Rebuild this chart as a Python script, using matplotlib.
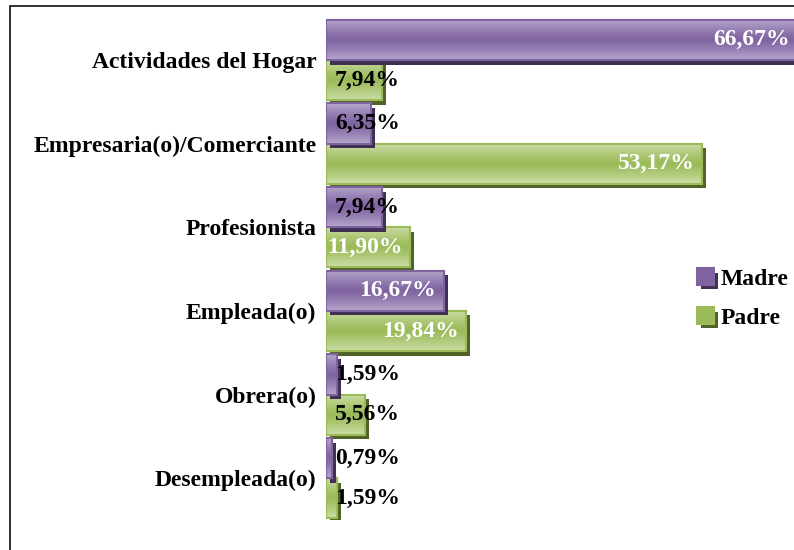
import numpy as np
import matplotlib
matplotlib.use('Agg')
import matplotlib.pyplot as plt
import matplotlib.patheffects as pe
from matplotlib.patches import Rectangle
from matplotlib.colors import to_rgb

# Data
categories = ['Actividades del Hogar', 'Empresaria(o)/Comerciante', 'Profesionista',
              'Empleada(o)', 'Obrera(o)', 'Desempleada(o)']
madre = [66.67, 6.35, 7.94, 16.67, 1.59, 0.79]
padre = [7.94, 53.17, 11.90, 19.84, 5.56, 1.59]

plt.rcParams['font.family'] = ['Liberation Serif', 'DejaVu Serif']
plt.rcParams['font.weight'] = 'bold'
FS = 17

fig = plt.figure(figsize=(7.94, 5.50), dpi=100)
ax = fig.add_axes([326 / 794, 0.0545, 1 - 326 / 794, 0.967 - 0.0545])

# frame around the chart (runs off the right and bottom edges)
fig.patches.append(Rectangle((10 / 794, -0.1), 1.2, 1 - 6 / 550 + 0.1, transform=fig.transFigure,
                             fill=False, edgecolor='#222222', lw=1.3))

series = [
    ('Padre', padre, 0.24, '#9BBB59', '#CCDDA8', '#4F6228', 2),
    ('Madre', madre, -0.24, '#8064A2', '#B6A8CC', '#403152', 3),
]

y = np.arange(len(categories))
h = 0.48
handles = {}
for name, vals, off, base, light, dark, z in series:
    shadow = [pe.SimplePatchShadow(offset=(3, -3.3), shadow_rgbFace=dark, alpha=1.0), pe.Normal()]
    bars = ax.barh(y + off, vals, height=h, color=base, edgecolor=base, lw=1.5,
                   zorder=z, path_effects=shadow, label=name)
    handles[name] = bars
    # vertical gradient: light at top and bottom, base colour in the middle
    t = np.linspace(0, 1, 64)
    f = np.abs(2 * t - 1) ** 1.2
    b, l = np.array(to_rgb(base)), np.array(to_rgb(light))
    grad = (b + (l - b) * f[:, None])[:, None, :]
    for rect in bars:
        x0, y0 = rect.get_xy()
        im = ax.imshow(grad, extent=(x0, x0 + rect.get_width(), y0 + rect.get_height(), y0),
                       aspect='auto', zorder=z + 0.1, interpolation='bilinear')
        im.set_clip_path(rect)
    ax.barh(y + off, vals, height=h, facecolor='none', edgecolor=base, lw=1.5, zorder=z + 0.2)

    for yi, v in zip(y + off, vals):
        txt = f'{v:.2f}'.replace('.', ',') + '%'
        if v >= 10:
            ax.annotate(txt, (v, yi), xytext=(-5.5, 0), textcoords='offset points',
                        ha='right', va='center', color='white', fontsize=FS,
                        fontweight='bold', zorder=10, annotation_clip=False)
        else:
            ax.annotate(txt, (0, yi), xytext=(6.5, 0), textcoords='offset points',
                        ha='left', va='center', color='black', fontsize=FS,
                        fontweight='bold', zorder=10)

ax.set_xlim(0, 66.18)
ax.set_ylim(len(categories) - 0.5, -0.5)
ax.set_yticks(y, categories, fontsize=FS, fontweight='bold')
ax.tick_params(axis='y', length=0, pad=7)
ax.set_xticks([])
for s in ax.spines.values():
    s.set_visible(False)

fig.legend([handles['Madre'], handles['Padre']], ['Madre', 'Padre'],
           loc='upper left', bbox_to_anchor=(697 / 794, 1 - 268 / 550),
           frameon=False, fontsize=FS, handlelength=0.7, handleheight=0.7,
           handletextpad=0.3, labelspacing=0.75, borderpad=0, borderaxespad=0)

fig.savefig('out.png', dpi=100)
